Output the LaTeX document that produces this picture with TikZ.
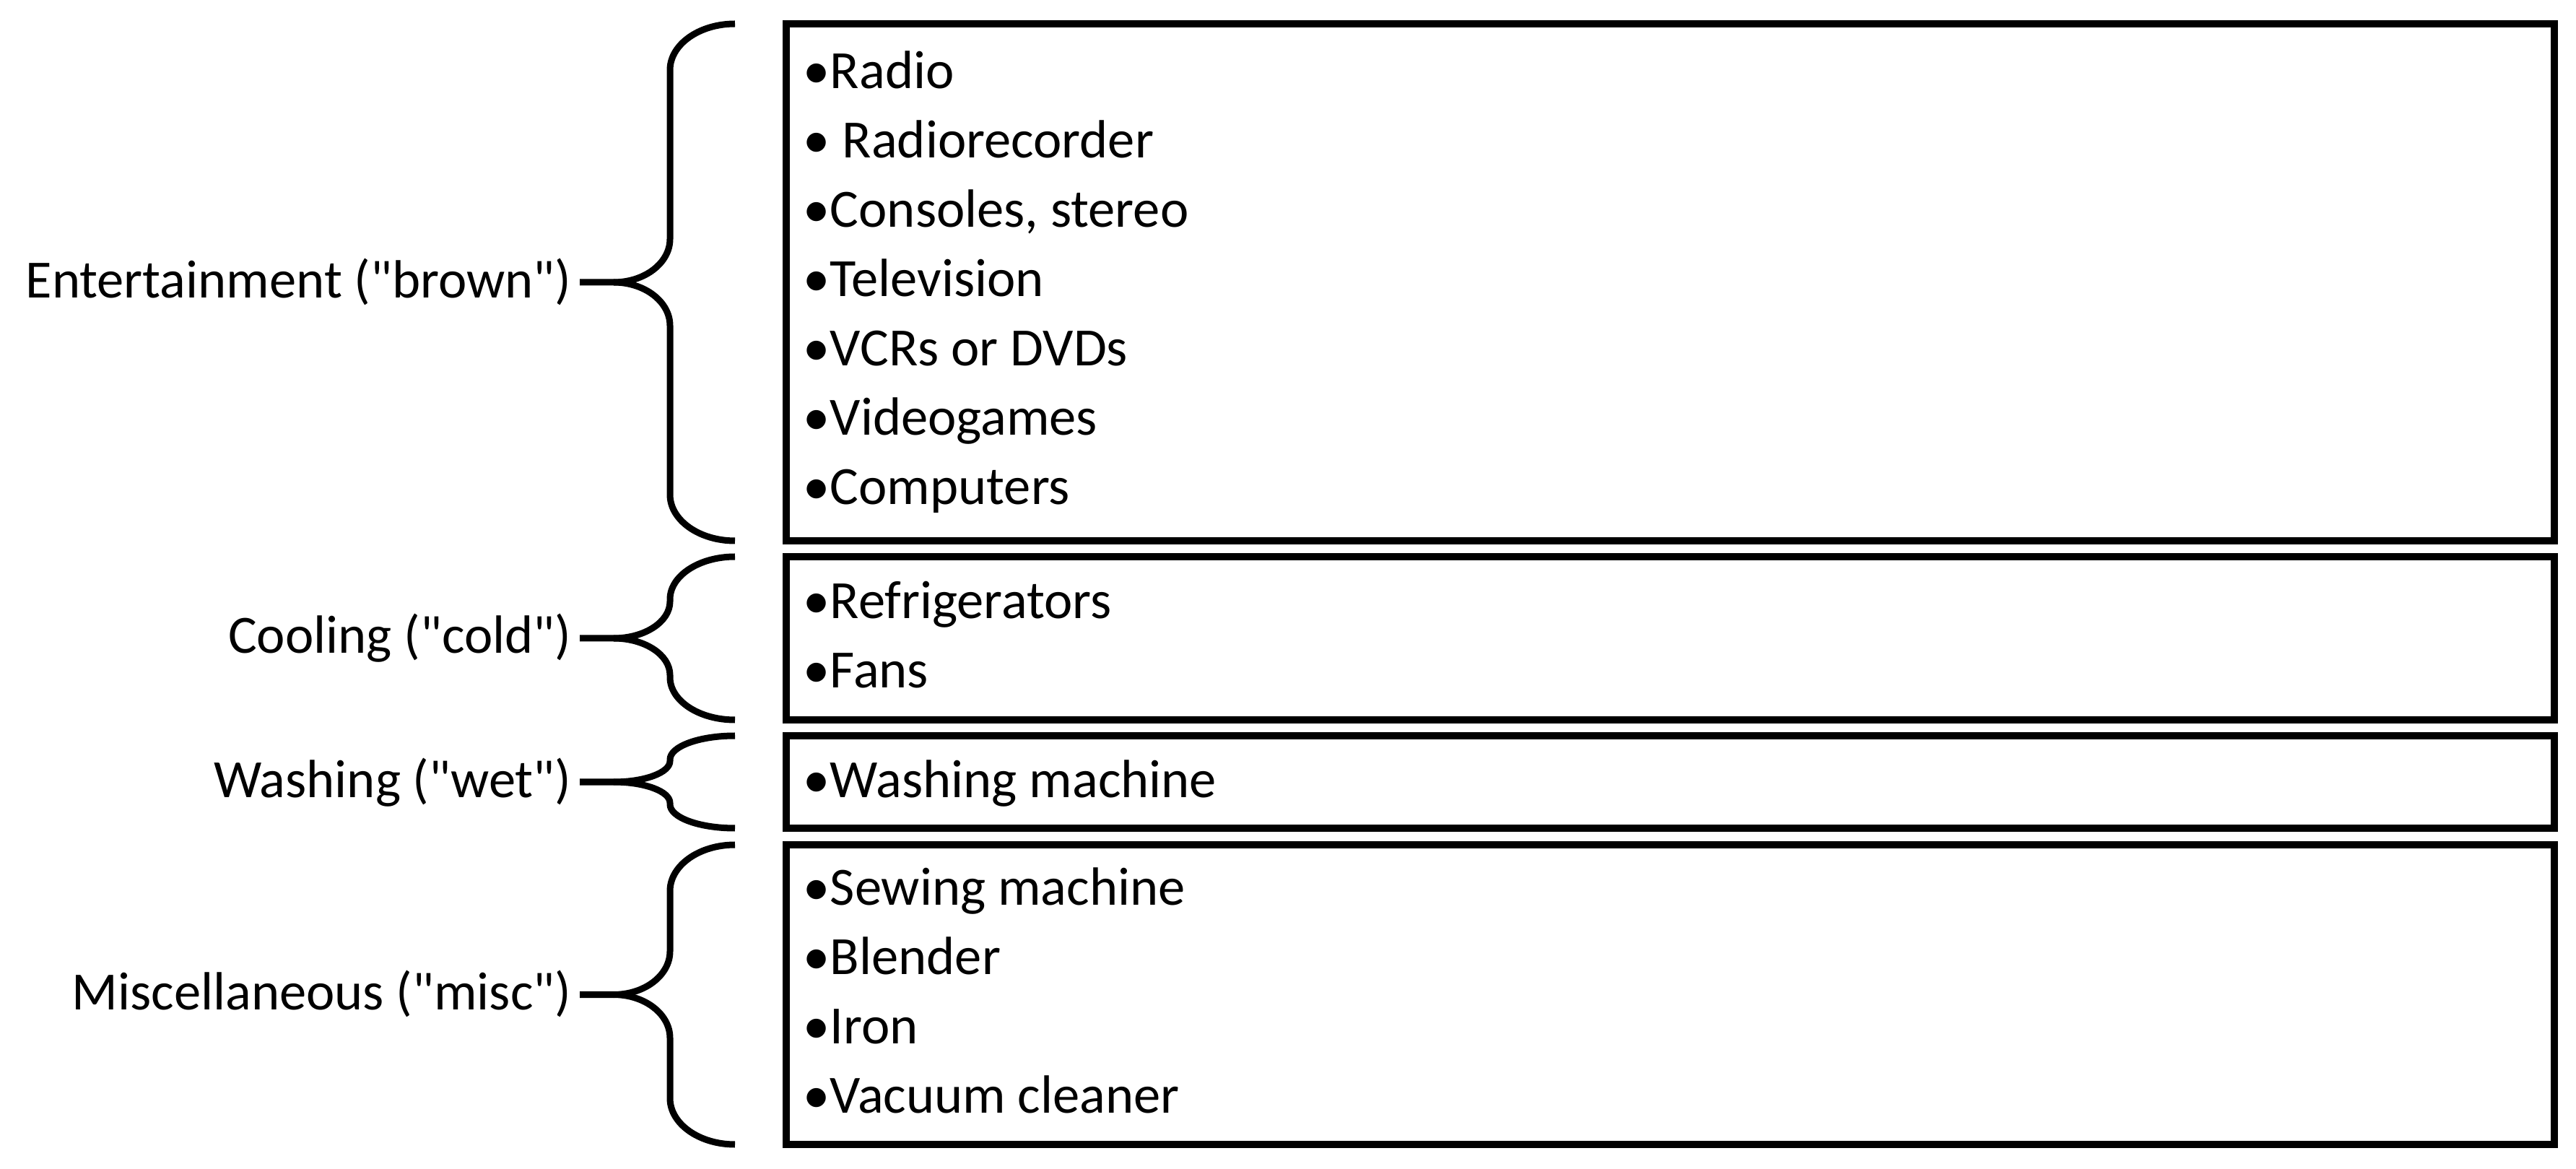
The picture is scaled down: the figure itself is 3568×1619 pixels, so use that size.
\documentclass[tikz,border=0pt]{standalone}
\usepackage{fontspec}
\setmainfont{Carlito}
\newcommand{\qq}{\textquotedbl}
\begin{document}
\begin{tikzpicture}[x=0.01cm,y=-0.01cm,
  boxstyle/.style={draw,line width=0.1cm,rectangle,inner sep=0pt,minimum width=24.47cm},
  bracestyle/.style={line width=0.09cm,line join=round},
  itemtext/.style={anchor=base west,inner sep=0pt,font=\fontsize{21.2}{25}\selectfont},
  labeltext/.style={anchor=base east,inner sep=0pt,font=\fontsize{21.2}{25}\selectfont}]
\useasboundingbox (0,0) rectangle (3568,1619);
\newcommand{\catbrace}[4]{%
  \pgfmathsetmacro\Mid{(#1+#2)/2}%
  \draw[bracestyle] (1018,#1) .. controls (968.3,#1) and (928,{#1+0.448*#3}) .. (928,{#1+#3})
     -- (928,{\Mid-#4}) .. controls (928,{\Mid-0.448*#4}) and (893,\Mid) .. (850,\Mid) -- (803,\Mid);
  \draw[bracestyle] (850,\Mid) .. controls (893,\Mid) and (928,{\Mid+0.448*#4}) .. (928,{\Mid+#4})
     -- (928,{#2-#3}) .. controls (928,{#2-0.448*#3}) and (968.3,#2) .. (1018,#2);
}
% boxes
\node[boxstyle,minimum height=7.16cm] (b1) at (2313.5,391) {};
\node[boxstyle,minimum height=2.26cm] (b2) at (2313.5,884) {};
\node[boxstyle,minimum height=1.28cm] (b3) at (2313.5,1083) {};
\node[boxstyle,minimum height=4.15cm] (b4) at (2313.5,1377.5) {};
% labels
\node[labeltext] (l1) at (792,413) {Entertainment (\qq brown\qq)};
\node[labeltext] (l2) at (792,905) {Cooling (\qq cold\qq)};
\node[labeltext] (l3) at (792,1104) {Washing (\qq wet\qq)};
\node[labeltext] (l4) at (792,1398) {Miscellaneous (\qq misc\qq)};
% braces
\catbrace{33}{749}{64}{60}
\catbrace{771}{997}{59}{51}
\catbrace{1019}{1147}{33}{29}
\catbrace{1170}{1585}{64}{60}
% items
\node[itemtext] (i1) at (1112,123) {•Radio};
\node[itemtext] (i2) at (1112,219) {• Radiorecorder};
\node[itemtext] (i3) at (1112,315) {•Consoles, stereo};
\node[itemtext] (i4) at (1112,411) {•Television};
\node[itemtext] (i5) at (1112,507) {•VCRs or DVDs};
\node[itemtext] (i6) at (1112,603) {•Videogames};
\node[itemtext] (i7) at (1112,699) {•Computers};
\node[itemtext] (i8) at (1112,857) {•Refrigerators};
\node[itemtext] (i9) at (1112,953) {•Fans};
\node[itemtext] (i10) at (1112,1105) {•Washing machine};
\node[itemtext] (i11) at (1112,1253) {•Sewing machine};
\node[itemtext] (i12) at (1112,1349) {•Blender};
\node[itemtext] (i13) at (1112,1445) {•Iron};
\node[itemtext] (i14) at (1112,1541) {•Vacuum cleaner};
\end{tikzpicture}
\end{document}
